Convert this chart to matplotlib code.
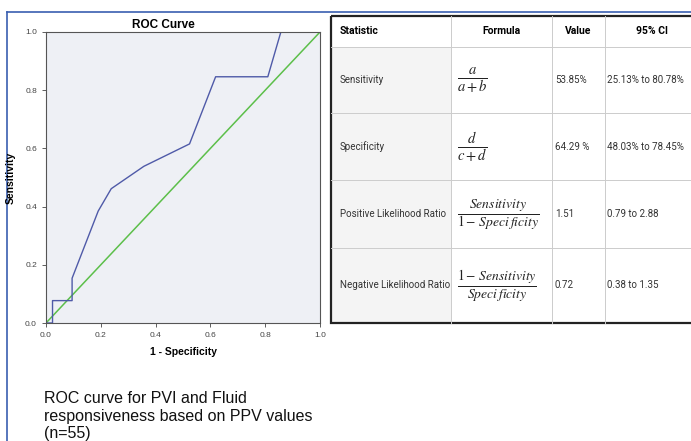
import matplotlib.pyplot as plt
import numpy as np

plt.rcParams['font.family'] = ['Liberation Sans', 'DejaVu Sans']
plt.rcParams['mathtext.fontset'] = 'stix'

# ROC curve points (1 - specificity, sensitivity)
fpr = [0.0, 1/42, 1/42, 4/42, 4/42, 8/42, 10/42, 15/42, 22/42, 26/42, 34/42, 36/42, 1.0]
tpr = [0.0, 0.0, 1/13, 1/13, 2/13, 5/13, 6/13, 7/13, 8/13, 11/13, 11/13, 1.0, 1.0]

ticks = [0.0, 0.2, 0.4, 0.6, 0.8, 1.0]
tick_labels = ["0.0", "0.2", "0.4", "0.6", "0.8", "1.0"]

# table contents
header = ["Statistic", "Formula", "Value", "95% CI"]
statistics = ["Sensitivity", "Specificity", "Positive Likelihood Ratio", "Negative Likelihood Ratio"]
formulas = [r"$\frac{a}{a+b}$", r"$\frac{d}{c+d}$",
            r"$\frac{Sensitivity}{1-\,Speci\,ficity}$", r"$\frac{1-\,Sensitivity}{Speci\,ficity}$"]
values = ["53.85%", "64.29 %", "1.51", "0.72"]
cis = ["25.13% to 80.78%", "48.03% to 78.45%", "0.79 to 2.88", "0.38 to 1.35"]

caption = "ROC curve for PVI and Fluid\nresponsiveness based on PPV values\n(n=55)"

W, H = 691, 441
fig = plt.figure(figsize=(W / 100, H / 100), dpi=100)
fig.patch.set_facecolor("white")

# overlay in pixel coordinates for frame, table and caption
overlay = fig.add_axes([0, 0, 1, 1])
overlay.set_xlim(0, W)
overlay.set_ylim(H, 0)
overlay.axis("off")

# blue frame around the panel
overlay.plot([7.5, 7.5], [H, 11.5], color="#3a5fb0", lw=1.2)
overlay.plot([7.5, W], [11.5, 11.5], color="#3a5fb0", lw=1.2)

# ROC axes
ax = fig.add_axes([46 / W, 1 - 323 / H, (320 - 46) / W, (323 - 32) / H])
ax.set_facecolor("#eef0f5")
ax.plot([0, 1], [0, 1], color="#5cbf4a", lw=1.1)
ax.plot(fpr, tpr, color="#4f5aa8", lw=1.0)
ax.set_xlim(0, 1)
ax.set_ylim(0, 1)
ax.set_xticks(ticks)
ax.set_xticklabels(tick_labels)
ax.set_yticks(ticks)
ax.set_yticklabels(tick_labels)
ax.tick_params(labelsize=6, colors="#444444", length=3, width=0.6)
for spine in ax.spines.values():
    spine.set_color("#555555")
    spine.set_linewidth(0.8)
ax.set_title("ROC Curve", fontsize=8.5, fontweight="bold", pad=3, x=0.43)
ax.set_xlabel("1 - Specificity", fontsize=7.5, fontweight="bold", labelpad=6)
ax.set_ylabel("Sensitivity", fontsize=7.5, fontweight="bold", labelpad=7)

# table
tx0, tx1 = 331, 700
col_x = [331, 451, 552, 605, 700]
row_y = [16, 47, 113, 180, 248, 323]
tfont = ['Roboto', 'DejaVu Sans']
fs = 7

overlay.add_patch(plt.Rectangle((col_x[0], row_y[1]), col_x[1] - col_x[0], row_y[-1] - row_y[1],
                                facecolor="#f4f4f4", edgecolor="none"))
for x in col_x[1:-1]:
    overlay.plot([x, x], [row_y[0], row_y[-1]], color="#cccccc", lw=0.7)
for y in row_y[1:-1]:
    overlay.plot([tx0, tx1], [y, y], color="#cccccc", lw=0.7)
overlay.add_patch(plt.Rectangle((tx0, row_y[0]), tx1 - tx0, row_y[-1] - row_y[0],
                                facecolor="none", edgecolor="#222222", lw=1.6))

header_y = (row_y[0] + row_y[1]) / 2
overlay.text(340, header_y, header[0], fontsize=7.5, fontweight="bold", family=tfont, va="center")
for i in range(1, 4):
    overlay.text((col_x[i] + col_x[i + 1]) / 2, header_y, header[i], fontsize=7.5,
                 fontweight="bold", family=tfont, va="center", ha="center")

for i in range(4):
    yc = (row_y[i + 1] + row_y[i + 2]) / 2
    overlay.text(340, yc, statistics[i], fontsize=fs, family=tfont, va="center", color="#333333")
    overlay.text(457, yc + 1, formulas[i], fontsize=15 if i < 2 else 14, va="center", ha="left", color="#222222")
    overlay.text(555, yc, values[i], fontsize=fs, family=tfont, va="center", color="#333333")
    overlay.text(607, yc, cis[i], fontsize=fs, family=tfont, va="center", color="#333333")

overlay.text(44, 391, caption, fontsize=11.5, va="top", ha="left", color="#111111", linespacing=1.22)

fig.savefig("out.png", dpi=100)
